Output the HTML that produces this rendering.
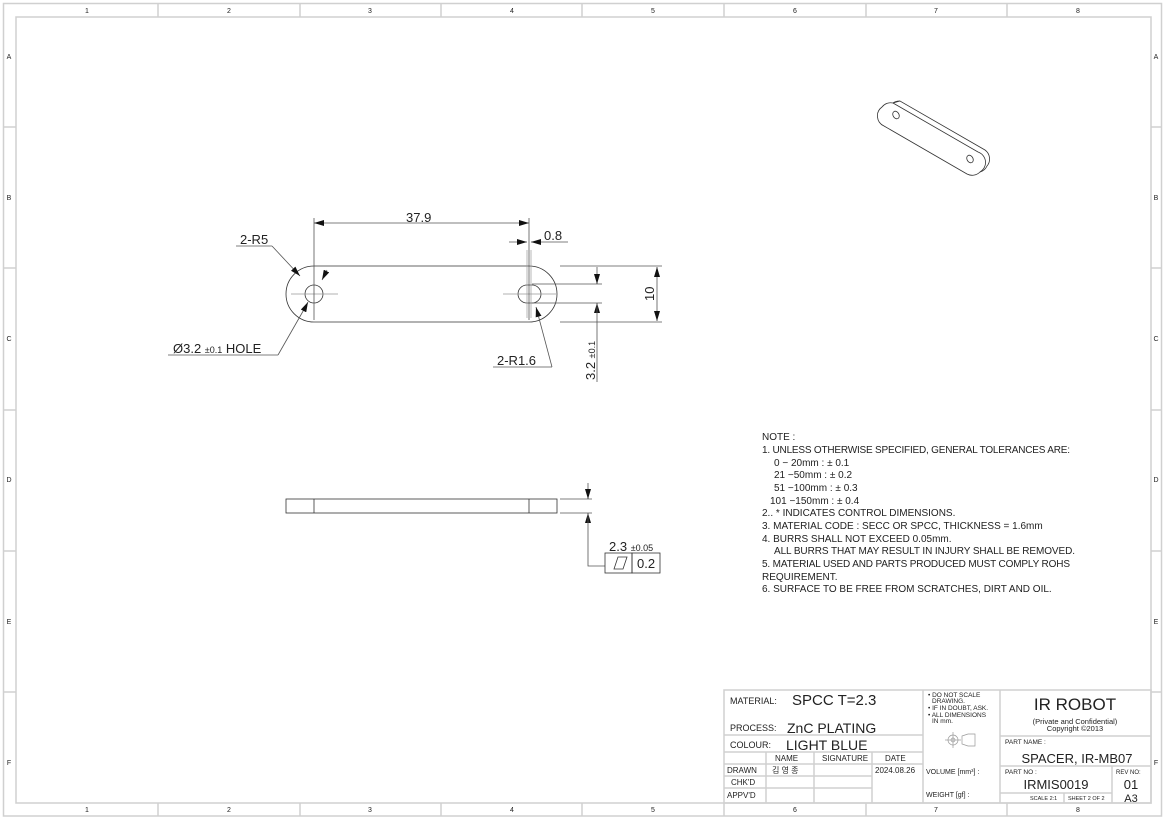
<!DOCTYPE html>
<html><head><meta charset="utf-8"><style>
html,body{margin:0;padding:0;background:#fff;}
svg{display:block;}
text{font-family:"Liberation Sans","Noto Sans CJK KR",sans-serif;fill:#222;}
.g{stroke:#d0d0d0;fill:none;stroke-width:1.5}
.l{stroke:#333;fill:none;stroke-width:0.8}
.c{stroke:#999;fill:none;stroke-width:0.7}
.t{stroke:#555;fill:none;stroke-width:0.8}
.n{font-size:7px;fill:#666}
</style></head><body>
<svg width="1164" height="819" viewBox="0 0 1164 819" xmlns="http://www.w3.org/2000/svg">
<defs>
<marker id="a" viewBox="0 0 10 6" refX="10" refY="3" markerWidth="10" markerHeight="6" orient="auto-start-reverse" markerUnits="userSpaceOnUse"><path d="M0,0 L10,3 L0,6z" fill="#111"/></marker>
</defs>
<rect x="3.5" y="3.5" width="1158" height="812.5" class="g"/>
<rect x="16" y="17" width="1135" height="786" class="g"/>
<g class="g">
<line x1="158" y1="3" x2="158" y2="17"/><line x1="300" y1="3" x2="300" y2="17"/><line x1="441" y1="3" x2="441" y2="17"/><line x1="582" y1="3" x2="582" y2="17"/><line x1="724" y1="3" x2="724" y2="17"/><line x1="866" y1="3" x2="866" y2="17"/><line x1="1007" y1="3" x2="1007" y2="17"/>
<line x1="158" y1="803" x2="158" y2="816"/><line x1="300" y1="803" x2="300" y2="816"/><line x1="441" y1="803" x2="441" y2="816"/><line x1="582" y1="803" x2="582" y2="816"/><line x1="724" y1="803" x2="724" y2="816"/><line x1="866" y1="803" x2="866" y2="816"/><line x1="1007" y1="803" x2="1007" y2="816"/>
<line x1="3" y1="127" x2="16" y2="127"/><line x1="3" y1="268" x2="16" y2="268"/><line x1="3" y1="410" x2="16" y2="410"/><line x1="3" y1="551" x2="16" y2="551"/><line x1="3" y1="692" x2="16" y2="692"/>
<line x1="1151" y1="127" x2="1162" y2="127"/><line x1="1151" y1="268" x2="1162" y2="268"/><line x1="1151" y1="410" x2="1162" y2="410"/><line x1="1151" y1="551" x2="1162" y2="551"/><line x1="1151" y1="692" x2="1162" y2="692"/>
</g>
<g class="n" text-anchor="middle">
<text x="87" y="13">1</text><text x="229" y="13">2</text><text x="370" y="13">3</text><text x="512" y="13">4</text><text x="653" y="13">5</text><text x="795" y="13">6</text><text x="936" y="13">7</text><text x="1078" y="13">8</text>
<text x="87" y="812">1</text><text x="229" y="812">2</text><text x="370" y="812">3</text><text x="512" y="812">4</text><text x="653" y="812">5</text><text x="795" y="812">6</text><text x="936" y="812">7</text><text x="1078" y="812">8</text>
<text x="9" y="59">A</text><text x="9" y="200">B</text><text x="9" y="341">C</text><text x="9" y="482">D</text><text x="9" y="624">E</text><text x="9" y="765">F</text>
<text x="1156" y="59">A</text><text x="1156" y="200">B</text><text x="1156" y="341">C</text><text x="1156" y="482">D</text><text x="1156" y="624">E</text><text x="1156" y="765">F</text>
</g>

<!-- top view -->
<path class="l" d="M314,266 L529,266 A28,28 0 0 1 529,322 L314,322 A28,28 0 0 1 314,266 Z"/>
<circle class="l" cx="314" cy="294" r="9"/>
<path class="l" d="M527,285 L532,285 A9,9 0 0 1 532,303 L527,303 A9,9 0 0 1 527,285 Z"/>
<g class="c">
<line x1="291" y1="294" x2="338" y2="294"/><line x1="503" y1="294" x2="556" y2="294"/>
<line x1="527" y1="250" x2="527" y2="318"/><line x1="531" y1="250" x2="531" y2="318"/>
</g>
<g class="t">
<line x1="314" y1="218" x2="314" y2="320"/><line x1="529" y1="218" x2="529" y2="320"/>
<line x1="314" y1="223" x2="529" y2="223" marker-start="url(#a)" marker-end="url(#a)"/>
<line x1="509" y1="242" x2="527" y2="242" marker-end="url(#a)"/>
<line x1="548" y1="242" x2="531" y2="242" marker-end="url(#a)"/>
<line x1="548" y1="242" x2="568" y2="242"/>
<line x1="560" y1="266" x2="662" y2="266"/><line x1="560" y1="322" x2="662" y2="322"/>
<line x1="657" y1="267" x2="657" y2="321" marker-start="url(#a)" marker-end="url(#a)"/>
<line x1="532" y1="284" x2="602" y2="284"/><line x1="532" y1="303" x2="602" y2="303"/>
<line x1="597" y1="267" x2="597" y2="284"/><line x1="597" y1="274" x2="597" y2="284" marker-end="url(#a)"/>
<line x1="597" y1="313" x2="597" y2="303" marker-end="url(#a)"/><line x1="597" y1="303" x2="597" y2="382"/>
<line x1="236" y1="246" x2="272" y2="246"/><line x1="272" y1="246" x2="300" y2="276" marker-end="url(#a)"/>
<line x1="168" y1="355" x2="278" y2="355"/><line x1="278" y1="355" x2="306" y2="306"/><line x1="306" y1="306" x2="308" y2="302" marker-end="url(#a)"/>
<line x1="327" y1="270" x2="322" y2="280" marker-end="url(#a)"/>
<line x1="493" y1="367" x2="552" y2="367"/><line x1="552" y1="367" x2="536" y2="307" marker-end="url(#a)"/>
</g>
<g font-size="13">
<text x="406" y="222">37.9</text>
<text x="544" y="240">0.8</text>
<text x="240" y="244">2-R5</text>
<text x="173" y="353">Ø3.2 <tspan font-size="9">±0.1</tspan> HOLE</text>
<text x="497" y="365">2-R1.6</text>
<text transform="translate(654,301) rotate(-90)">10</text>
<text transform="translate(595,380) rotate(-90)">3.2 <tspan font-size="9">±0.1</tspan></text>
</g>

<!-- side view -->
<g class="l">
<rect x="286" y="499" width="271" height="14"/>
<line x1="314" y1="499" x2="314" y2="513"/><line x1="529" y1="499" x2="529" y2="513"/>
</g>
<g class="t">
<line x1="560" y1="499" x2="592" y2="499"/><line x1="560" y1="513" x2="592" y2="513"/>
<line x1="588" y1="483" x2="588" y2="499"/><line x1="588" y1="489" x2="588" y2="499" marker-end="url(#a)"/>
<line x1="588" y1="523" x2="588" y2="513" marker-end="url(#a)"/>
<polyline points="588,513 588,566 605,566"/>
</g>
<rect class="l" x="605" y="553" width="27" height="20"/><rect class="l" x="632" y="553" width="28" height="20"/>
<path class="l" d="M614,569 L618,557 L627,557 L623,569 Z"/>
<text x="637" y="568" font-size="13">0.2</text>
<text x="609" y="551" font-size="13">2.3 <tspan font-size="9">±0.05</tspan></text>

<!-- iso view -->
<g class="l" stroke-width="0.7">
<path d="M893,103 L978,152 A11,11 0 0 1 980,172 A11,11 0 0 1 967,174 L884,126 A11,11 0 0 1 882,107 A11,11 0 0 1 893,103 Z"/>
<path d="M893,103 L900,101 L985,150 A11,11 0 0 1 987,166 A11,11 0 0 1 980,172"/>
<path d="M900,101 A11,11 0 0 0 893,103"/>
<ellipse cx="896" cy="115" rx="3" ry="4" transform="rotate(-30 896 115)"/>
<ellipse cx="970" cy="159" rx="3" ry="4" transform="rotate(-30 970 159)"/>
</g>

<!-- notes -->
<g font-size="10" fill="#222">
<text x="762" y="440">NOTE :</text>
<text x="762" y="453" textLength="308">1. UNLESS OTHERWISE SPECIFIED, GENERAL TOLERANCES ARE:</text>
<text x="774" y="466">0 − 20mm : ± 0.1</text>
<text x="774" y="478">21 −50mm : ± 0.2</text>
<text x="774" y="491">51 −100mm : ± 0.3</text>
<text x="770" y="504">101 −150mm : ± 0.4</text>
<text x="762" y="516">2.. * INDICATES CONTROL DIMENSIONS.</text>
<text x="762" y="529">3. MATERIAL CODE : SECC OR SPCC, THICKNESS = 1.6mm</text>
<text x="762" y="542">4. BURRS SHALL NOT EXCEED 0.05mm.</text>
<text x="774" y="554" textLength="301">ALL BURRS THAT MAY RESULT IN INJURY SHALL BE REMOVED.</text>
<text x="762" y="567" textLength="308">5. MATERIAL USED AND PARTS PRODUCED MUST COMPLY ROHS</text>
<text x="762" y="580">REQUIREMENT.</text>
<text x="762" y="592">6. SURFACE TO BE FREE FROM SCRATCHES, DIRT AND OIL.</text>
</g>

<!-- title block -->
<g class="g" stroke="#c8c8c8" stroke-width="1">
<rect x="724" y="690" width="427" height="113"/>
<line x1="724" y1="735" x2="923" y2="735"/><line x1="724" y1="752" x2="923" y2="752"/>
<line x1="724" y1="764" x2="923" y2="764"/><line x1="724" y1="776" x2="872" y2="776"/><line x1="724" y1="788" x2="872" y2="788"/>
<line x1="766" y1="752" x2="766" y2="803"/><line x1="814" y1="752" x2="814" y2="803"/><line x1="872" y1="752" x2="872" y2="803"/>
<line x1="923" y1="690" x2="923" y2="803"/><line x1="1000" y1="690" x2="1000" y2="803"/>
<line x1="1000" y1="736" x2="1151" y2="736"/><line x1="1000" y1="766" x2="1151" y2="766"/><line x1="1000" y1="793" x2="1112" y2="793"/>
<line x1="1112" y1="766" x2="1112" y2="803"/><line x1="1064" y1="793" x2="1064" y2="803"/>
</g>
<g fill="#222">
<text x="730" y="704" font-size="9">MATERIAL:</text>
<text x="792" y="705" font-size="15">SPCC T=2.3</text>
<text x="730" y="731" font-size="9">PROCESS:</text>
<text x="787" y="733" font-size="14">ZnC PLATING</text>
<text x="730" y="748" font-size="9">COLOUR:</text>
<text x="786" y="750" font-size="14">LIGHT BLUE</text>
</g>
<g font-size="8" fill="#222">
<text x="775" y="761">NAME</text><text x="822" y="761">SIGNATURE</text><text x="885" y="761">DATE</text>
<text x="727" y="773">DRAWN</text><text x="772" y="773">김 영 종</text><text x="875" y="773">2024.08.26</text>
<text x="731" y="785">CHK'D</text>
<text x="727" y="798">APPV'D</text>
<text x="926" y="774" font-size="7">VOLUME [mm³] :</text>
<text x="926" y="797" font-size="7">WEIGHT [gf] :</text>
<text x="928" y="697" font-size="6.5">• DO NOT SCALE</text>
<text x="932" y="703" font-size="6.5">DRAWING.</text>
<text x="928" y="710" font-size="6.5">• IF IN DOUBT, ASK.</text>
<text x="928" y="717" font-size="6.5">• ALL DIMENSIONS</text>
<text x="932" y="723" font-size="6.5">IN mm.</text>
</g>
<g class="c" stroke="#aaa">
<circle cx="953" cy="740" r="5"/><circle cx="953" cy="740" r="2"/><line x1="945" y1="740" x2="961" y2="740"/><line x1="953" y1="732" x2="953" y2="748"/>
<path d="M962,736 L968,734 L975,734 L975,746 L968,746 L962,744 Z"/>
</g>
<g fill="#222" text-anchor="middle">
<text x="1075" y="710" font-size="17">IR ROBOT</text>
<text x="1075" y="724" font-size="7.5">(Private and Confidential)</text>
<text x="1075" y="731" font-size="7.5">Copyright ©2013</text>
<text x="1077" y="763" font-size="13">SPACER, IR-MB07</text>
<text x="1056" y="789" font-size="13">IRMIS0019</text>
<text x="1131" y="789" font-size="13">01</text>
<text x="1131" y="802" font-size="11">A3</text>
</g>
<g fill="#222" font-size="6.5">
<text x="1005" y="744">PART NAME :</text>
<text x="1005" y="774">PART NO :</text>
<text x="1116" y="774" font-size="6">REV NO:</text>
<text x="1030" y="800" font-size="5.5">SCALE  2:1</text>
<text x="1068" y="800" font-size="5.5">SHEET 2 OF 2</text>
</g>
</svg>
</body></html>
